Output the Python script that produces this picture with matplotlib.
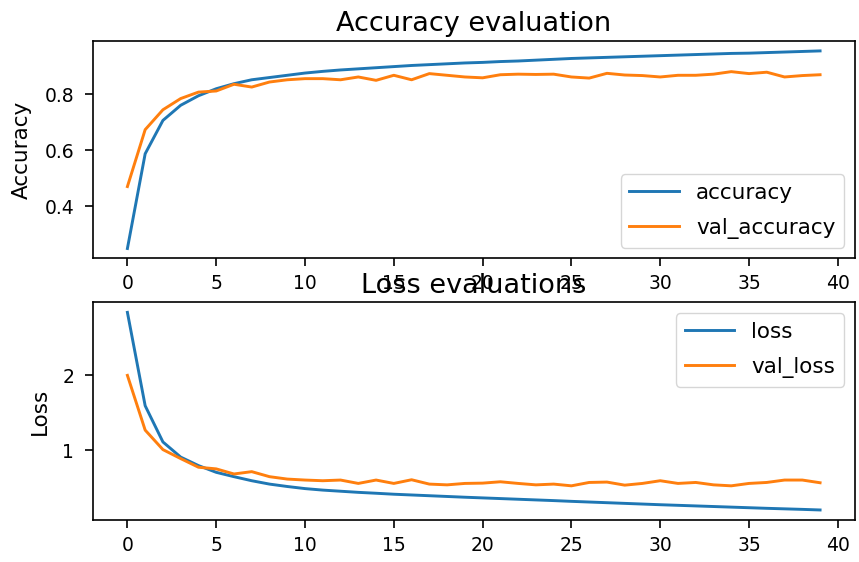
import matplotlib
matplotlib.use('Agg')
import matplotlib.pyplot as plt

# training history (40 epochs)
epochs = list(range(40))

accuracy = [0.250, 0.588, 0.707, 0.761, 0.795, 0.820, 0.838, 0.852, 0.860, 0.868,
            0.876, 0.882, 0.887, 0.891, 0.895, 0.899, 0.903, 0.906, 0.909, 0.912,
            0.914, 0.917, 0.919, 0.922, 0.925, 0.928, 0.930, 0.932, 0.934, 0.936,
            0.938, 0.940, 0.942, 0.944, 0.946, 0.947, 0.949, 0.951, 0.953, 0.955]

val_accuracy = [0.471, 0.674, 0.745, 0.785, 0.808, 0.812, 0.836, 0.826, 0.844, 0.852,
                0.856, 0.856, 0.852, 0.862, 0.850, 0.868, 0.852, 0.874, 0.868, 0.862,
                0.859, 0.870, 0.872, 0.871, 0.872, 0.862, 0.858, 0.875, 0.869, 0.867,
                0.862, 0.868, 0.868, 0.872, 0.881, 0.874, 0.879, 0.862, 0.867, 0.870]

loss = [2.840, 1.595, 1.112, 0.910, 0.797, 0.707, 0.649, 0.595, 0.550, 0.518,
        0.490, 0.470, 0.455, 0.440, 0.428, 0.415, 0.405, 0.395, 0.385, 0.375,
        0.366, 0.357, 0.348, 0.339, 0.330, 0.320, 0.311, 0.302, 0.293, 0.284,
        0.275, 0.267, 0.259, 0.251, 0.243, 0.235, 0.227, 0.220, 0.213, 0.205]

val_loss = [2.000, 1.270, 1.010, 0.890, 0.775, 0.753, 0.685, 0.716, 0.649, 0.617,
            0.604, 0.595, 0.604, 0.559, 0.604, 0.559, 0.608, 0.550, 0.540, 0.559,
            0.563, 0.581, 0.559, 0.540, 0.550, 0.527, 0.572, 0.577, 0.536, 0.559,
            0.595, 0.559, 0.572, 0.540, 0.527, 0.559, 0.572, 0.604, 0.604, 0.568]

TICK_FS = 13.5
LABEL_FS = 15.5
TITLE_FS = 19.5

fig, (ax1, ax2) = plt.subplots(2, 1, figsize=(8.59, 5.62), dpi=100)
fig.subplots_adjust(left=0.108, right=0.995, top=0.927, bottom=0.075, hspace=0.203)

# accuracy panel
ax1.plot(epochs, accuracy, label="accuracy", lw=2.1)
ax1.plot(epochs, val_accuracy, label="val_accuracy", lw=2.1)
ax1.set_title("Accuracy evaluation", fontsize=TITLE_FS, pad=7)
ax1.set_ylabel("Accuracy", fontsize=LABEL_FS, labelpad=9)
ax1.legend(loc="lower right", fontsize=LABEL_FS, handlelength=2.3, labelspacing=0.7)

# loss panel
ax2.plot(epochs, loss, label="loss", lw=2.1)
ax2.plot(epochs, val_loss, label="val_loss", lw=2.1)
ax2.set_title("Loss evaluations", fontsize=TITLE_FS, pad=7)
ax2.set_ylabel("Loss", fontsize=LABEL_FS, labelpad=9)
ax2.legend(loc="upper right", fontsize=LABEL_FS, handlelength=2.3, labelspacing=0.7)

for ax in (ax1, ax2):
    ax.tick_params(labelsize=TICK_FS, length=5.5, width=1.2)
    ax.tick_params(axis="y", pad=8)
    ax.tick_params(axis="x", pad=6)
    for s in ax.spines.values():
        s.set_linewidth(1.2)

plt.savefig("out.png", dpi=100)
plt.close(fig)
